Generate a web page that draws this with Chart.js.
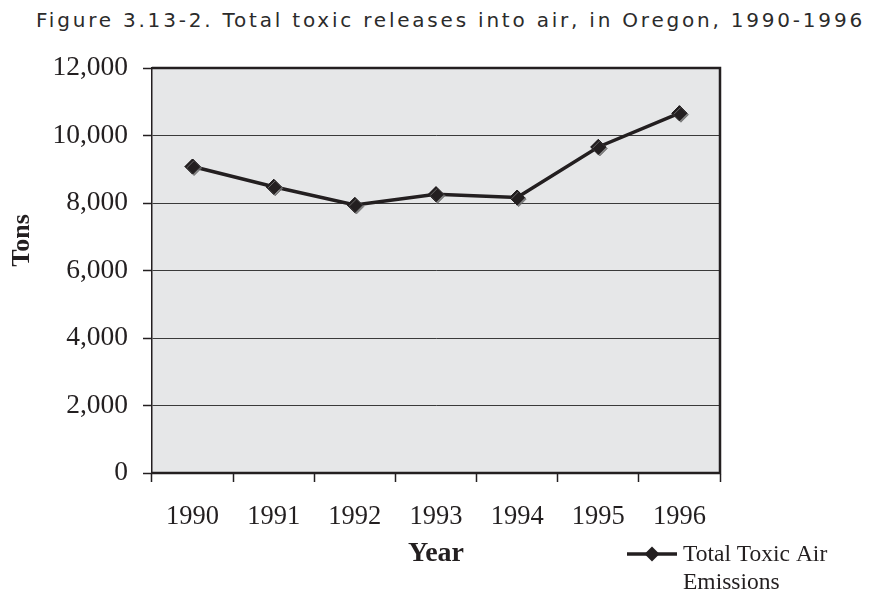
<!DOCTYPE html>
<html>
<head>
<meta charset="utf-8">
<script src="https://cdn.jsdelivr.net/npm/chart.js@4/dist/chart.umd.min.js"></script>
<style>
  html, body { margin: 0; padding: 0; background: #ffffff; }
  #wrap { position: relative; width: 871px; height: 590px; }
  #title {
    position: absolute; left: 36px; top: 9px; white-space: nowrap;
    font-family: "DejaVu Sans", sans-serif; font-size: 20px; line-height: 22px;
    color: #2b2b2b;
  }
  canvas { position: absolute; left: 0; top: 0; }
</style>
</head>
<body>
<div id="wrap">
  <div id="title">Figure 3.13-2. Total toxic releases into air, in Oregon, 1990-1996</div>
  <canvas id="chart" width="871" height="590"></canvas>
</div>
<script>
// Annual totals, tons
const years = ['1990', '1991', '1992', '1993', '1994', '1995', '1996'];
const emissions = [9080, 8480, 7940, 8260, 8160, 9660, 10660];
const seriesLabel = 'Total Toxic Air Emissions';
const yTicks = [0, 2000, 4000, 6000, 8000, 10000, 12000];

// stretch the title's letter spacing to span the full header line
(function () {
  const t = document.getElementById('title');
  const target = 826;
  const n = t.textContent.length - 1;
  const w = t.getBoundingClientRect().width;
  t.style.letterSpacing = ((target - w) / n).toFixed(2) + 'px';
})();

const INK = '#231f20';
const SERIF = '"Liberation Serif", "Times New Roman", serif';

const plotFrame = {
  id: 'plotFrame',
  beforeDraw(chart) {
    const { ctx, chartArea: a } = chart;
    ctx.save();
    ctx.fillStyle = '#e6e7e8';
    ctx.fillRect(a.left, a.top, a.right - a.left, a.bottom - a.top);
    ctx.restore();
  },
  afterDatasetsDraw(chart) {
    const { ctx, chartArea: a } = chart;
    // markers get a soft grey drop edge
    ctx.save();
    ctx.shadowColor = 'rgba(110,110,110,0.85)';
    ctx.shadowOffsetX = 1.5;
    ctx.shadowOffsetY = 1.5;
    ctx.shadowBlur = 0;
    chart.getDatasetMeta(0).data.forEach(pt => pt.draw(ctx, a));
    ctx.restore();

    ctx.save();
    ctx.strokeStyle = INK;
    ctx.lineWidth = 2.5;
    ctx.beginPath();
    ctx.moveTo(a.left, a.top);
    ctx.lineTo(a.right, a.top);
    ctx.lineTo(a.right, a.bottom);
    ctx.lineTo(a.left, a.bottom);
    ctx.stroke();
    ctx.restore();
  }
};

// y-axis caption, placed a little above the axis midpoint
const yCaption = {
  id: 'yCaption',
  afterDraw(chart) {
    const { ctx, chartArea: a } = chart;
    ctx.save();
    ctx.translate(22, (a.top + a.bottom) / 2 - 30);
    ctx.rotate(-Math.PI / 2);
    ctx.font = 'bold 26px ' + SERIF;
    ctx.fillStyle = INK;
    ctx.textAlign = 'center';
    ctx.textBaseline = 'middle';
    ctx.fillText('Tons', 0, 0);
    ctx.restore();
  }
};

// legend with the series name wrapped over two lines
const wrappedLegend = {
  id: 'wrappedLegend',
  afterDraw(chart) {
    const { ctx, chartArea: a } = chart;
    const ds = chart.data.datasets[0];
    const x0 = a.right - 93, y0 = 554;
    ctx.save();
    ctx.strokeStyle = ds.borderColor;
    ctx.lineWidth = ds.borderWidth;
    ctx.beginPath();
    ctx.moveTo(x0, y0);
    ctx.lineTo(x0 + 50, y0);
    ctx.stroke();
    ctx.fillStyle = ds.pointBackgroundColor;
    ctx.beginPath();
    ctx.moveTo(x0 + 25, y0 - 7.5);
    ctx.lineTo(x0 + 32.5, y0);
    ctx.lineTo(x0 + 25, y0 + 7.5);
    ctx.lineTo(x0 + 17.5, y0);
    ctx.closePath();
    ctx.fill();
    ctx.font = '23.5px ' + SERIF;
    ctx.fillStyle = INK;
    ctx.textAlign = 'left';
    ctx.textBaseline = 'middle';
    const words = ds.label.split(' ');
    ctx.fillText(words.slice(0, 3).join(' '), x0 + 56, y0 + 1);
    ctx.fillText(words.slice(3).join(' '), x0 + 56, y0 + 29);
    ctx.restore();
  }
};

new Chart(document.getElementById('chart'), {
  type: 'line',
  data: {
    labels: years,
    datasets: [{
      label: seriesLabel,
      data: emissions,
      borderColor: INK,
      borderWidth: 3.5,
      pointStyle: 'rectRot',
      pointRadius: 7.5,
      pointBackgroundColor: INK,
      pointBorderColor: INK,
      pointBorderWidth: 1,
      tension: 0,
      fill: false
    }]
  },
  options: {
    responsive: false,
    devicePixelRatio: 1,
    animation: false,
    layout: { padding: { top: 68, right: 151, left: 0, bottom: 0 } },
    plugins: {
      legend: { display: false },
      tooltip: { enabled: false },
      title: { display: false }
    },
    scales: {
      x: {
        type: 'category',
        offset: true,
        grid: {
          offset: true,
          drawOnChartArea: false,
          drawTicks: true,
          tickLength: 9,
          tickColor: INK,
          tickWidth: 1.5
        },
        border: { display: true, color: INK, width: 2 },
        ticks: {
          color: INK,
          font: { family: SERIF, size: 26.5 },
          padding: 19,
          maxRotation: 0
        },
        title: {
          display: true,
          text: 'Year',
          color: INK,
          font: { family: SERIF, size: 28, weight: 'bold' },
          padding: { top: 0, bottom: 19 }
        },
        afterFit(scale) { scale.height = 117; }
      },
      y: {
        min: 0,
        max: 12000,
        afterBuildTicks(scale) { scale.ticks = yTicks.map(v => ({ value: v })); },
        grid: {
          color: '#3a3a3a',
          lineWidth: 1,
          drawTicks: true,
          tickLength: 9,
          tickColor: INK,
          tickWidth: 1.5
        },
        border: { display: true, color: INK, width: 1.5 },
        ticks: {
          color: INK,
          font: { family: SERIF, size: 27.5 },
          padding: 15,
          callback: v => v.toLocaleString('en-US')
        },
        afterFit(scale) { scale.width = 152; }
      }
    }
  },
  plugins: [plotFrame, yCaption, wrappedLegend]
});
</script>
</body>
</html>
